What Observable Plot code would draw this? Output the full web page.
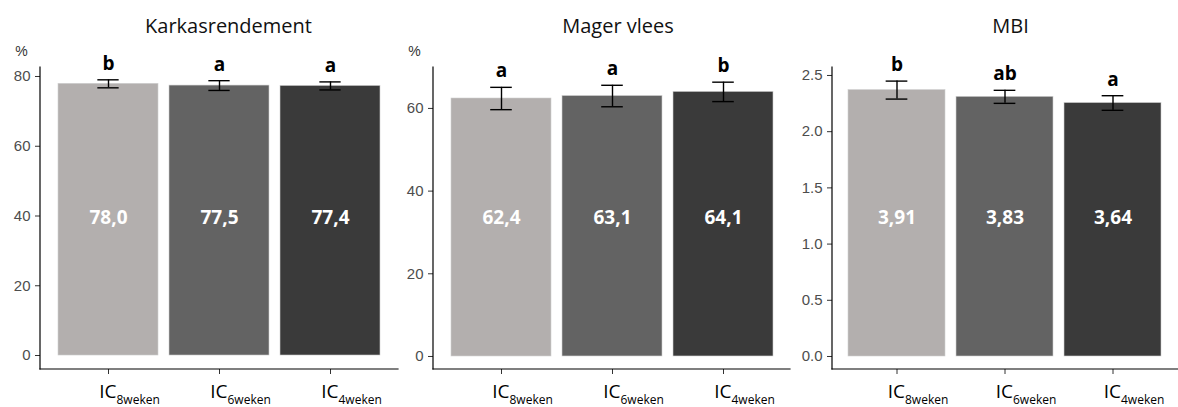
<!DOCTYPE html>
<html><head><meta charset="utf-8">
<script src="https://cdn.jsdelivr.net/npm/d3@7"></script>
<script src="https://cdn.jsdelivr.net/npm/@observablehq/plot@0.6"></script>
<style>
html,body{margin:0;padding:0;background:#fff;}
#chart{position:relative;width:1178px;height:407px;overflow:hidden;background:#fff;}
#chart > div{position:absolute;top:0;}
</style></head><body><div id="chart"></div>
<script>
// ---- data ----
const categories = ["8weken", "6weken", "4weken"];
const barColors = ["#b3afae", "#636363", "#3a3a3a"];

const karkasTitle = "Karkasrendement";
const karkasMean = [77.9, 77.4, 77.3];
const karkasSE = [1.15, 1.4, 1.15];
const karkasLabels = ["78,0", "77,5", "77,4"];
const karkasLetters = ["b", "a", "a"];
const karkasTicks = [0, 20, 40, 60, 80];

const magerTitle = "Mager vlees";
const magerMean = [62.4, 63.0, 64.0];
const magerSE = [2.7, 2.6, 2.35];
const magerLabels = ["62,4", "63,1", "64,1"];
const magerLetters = ["a", "a", "b"];
const magerTicks = [0, 20, 40, 60];

const mbiTitle = "MBI";
const mbiMean = [2.37, 2.31, 2.255];
const mbiSE = [0.08, 0.058, 0.065];
const mbiLabels = ["3,91", "3,83", "3,64"];
const mbiLetters = ["b", "ab", "a"];
const mbiTicks = [0, 0.5, 1.0, 1.5, 2.0, 2.5];

function panel({left, width, marginLeft, title, titleDx, unit, means, ses, labels, letters, yDomain, yTicks, tickFormat}) {
  const data = categories.map((c, i) => ({cat: c, mean: means[i], se: ses[i], label: labels[i], letter: letters[i]}));
  const step = (width - marginLeft) / 3.2;
  const capInset = (step * 0.9 - 22) / 2;
  const axisLines = (index, scales, values, dims) => {
    const g = d3.create("svg:g").attr("stroke", "#000").attr("stroke-width", 1.2).attr("stroke-linecap", "square");
    const x0 = dims.marginLeft, yb = dims.height - dims.marginBottom;
    g.append("line").attr("x1", x0).attr("x2", x0).attr("y1", dims.marginTop).attr("y2", yb);
    g.append("line").attr("x1", x0).attr("x2", dims.width - dims.marginRight).attr("y1", yb).attr("y2", yb);
    return g.node();
  };
  const marks = [
    Plot.barY(data, {x: "cat", y: "mean", fill: "cat", stroke: "#cfcfcf", strokeWidth: 0.6}),
    Plot.ruleX(data, {x: "cat", y1: d => d.mean - d.se, y2: d => d.mean + d.se, stroke: "#000", strokeWidth: 1.4}),
    Plot.tickY(data, {x: "cat", y: d => d.mean + d.se, insetLeft: capInset, insetRight: capInset, stroke: "#000", strokeWidth: 1.4}),
    Plot.tickY(data, {x: "cat", y: d => d.mean - d.se, insetLeft: capInset, insetRight: capInset, stroke: "#000", strokeWidth: 1.4}),
    Plot.text(data, {x: "cat", y: d => d.mean + d.se, text: "letter", lineAnchor: "bottom", dy: -10, fontWeight: "bold", fontSize: 19, fill: "#000"}),
    Plot.text(data, {x: "cat", text: "label", frameAnchor: "middle", dy: -1, fill: "white", fontWeight: "bold", fontSize: 19}),
    Plot.axisY({ticks: yTicks, tickFormat, tickSize: 5, tickPadding: 5, stroke: "#333", fill: "#4d4d4d", fontSize: 15, fontFamily: "Liberation Sans, Arial, sans-serif", label: null}),
    Plot.axisX({tickSize: 5, tickFormat: () => "", stroke: "#333", label: null}),
    axisLines,
    Plot.text(data, {x: "cat", text: () => "IC", frameAnchor: "bottom", textAnchor: "end", lineAnchor: "bottom", dx: 8, dy: 28, fontSize: 19, fill: "#000"}),
    Plot.text(data, {x: "cat", text: "cat", frameAnchor: "bottom", textAnchor: "start", lineAnchor: "bottom", dx: 8, dy: 34, fontSize: 12, fill: "#000"}),
    Plot.text([title], {text: d => d, frameAnchor: "top", lineAnchor: "bottom", dy: -35, dx: titleDx, fontSize: 20, fill: "#111"})
  ];
  if (unit) marks.push(Plot.text([unit], {text: d => d, frameAnchor: "top-left", textAnchor: "middle", lineAnchor: "bottom", dx: -19, dy: -12, fontSize: 14, fill: "#333", fontFamily: "Liberation Sans, Arial, sans-serif"}));
  const svg = Plot.plot({
    width, height: 407, marginLeft, marginRight: 0, marginTop: 67, marginBottom: 38,
    style: {background: "transparent", maxWidth: "none", overflow: "visible", fontFamily: "'Open Sans', sans-serif"},
    x: {domain: categories, paddingInner: 0.1, paddingOuter: 0.15, axis: null},
    y: {domain: yDomain, axis: null},
    color: {domain: categories, range: barColors},
    marks
  });
  const wrap = document.createElement("div");
  wrap.style.left = left + "px";
  wrap.appendChild(svg);
  document.getElementById("chart").appendChild(wrap);
}

panel({left: 0, width: 398, marginLeft: 40, title: karkasTitle, titleDx: 9, unit: "%", means: karkasMean, ses: karkasSE, labels: karkasLabels, letters: karkasLetters, yDomain: [-4.01, 82.58], yTicks: karkasTicks, tickFormat: d3.format("d")});
panel({left: 398, width: 392, marginLeft: 35, title: magerTitle, titleDx: 6, unit: "%", means: magerMean, ses: magerSE, labels: magerLabels, letters: magerLetters, yDomain: [-3.15, 69.9], yTicks: magerTicks, tickFormat: d3.format("d")});
panel({left: 790, width: 388, marginLeft: 42, title: mbiTitle, titleDx: 5, unit: null, means: mbiMean, ses: mbiSE, labels: mbiLabels, letters: mbiLetters, yDomain: [-0.1157, 2.571], yTicks: mbiTicks, tickFormat: d3.format(".1f")});
</script>
</body></html>
